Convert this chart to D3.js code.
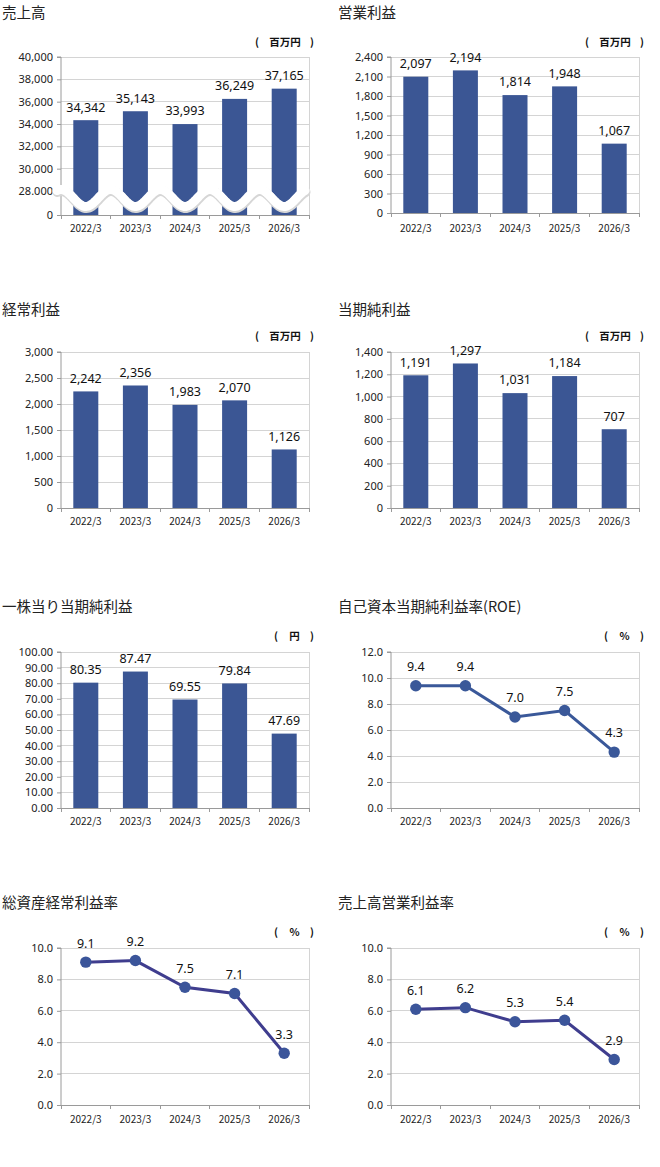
<!DOCTYPE html>
<html><head><meta charset="utf-8">
<script src="https://cdn.jsdelivr.net/npm/d3@7"></script>
<style>body{margin:0;background:#fff} svg{display:block}</style>
</head><body>
<script>
// ---------- data ----------
const categories = ["2022/3","2023/3","2024/3","2025/3","2026/3"];

const salesValues = [34342,35143,33993,36249,37165];
const salesTicks = [0,28000,30000,32000,34000,36000,38000,40000];
const salesTickLabels = ["0","28.000","30,000","32,000","34,000","36,000","38,000","40,000"];

const opProfitValues = [2097,2194,1814,1948,1067];
const opProfitTicks = [0,300,600,900,1200,1500,1800,2100,2400];

const ordProfitValues = [2242,2356,1983,2070,1126];
const ordProfitTicks = [0,500,1000,1500,2000,2500,3000];

const netProfitValues = [1191,1297,1031,1184,707];
const netProfitTicks = [0,200,400,600,800,1000,1200,1400];

const epsValues = [80.35,87.47,69.55,79.84,47.69];
const epsTicks = [0,10,20,30,40,50,60,70,80,90,100];

const roeValues = [9.4,9.4,7.0,7.5,4.3];
const roeTicks = [0,2,4,6,8,10,12];

const roaValues = [9.1,9.2,7.5,7.1,3.3];
const opMarginValues = [6.1,6.2,5.3,5.4,2.9];
const rateTicks = [0,2,4,6,8,10];

const titles = ["売上高","営業利益","経常利益","当期純利益","一株当り当期純利益","自己資本当期純利益率(ROE)","総資産経常利益率","売上高営業利益率"];
const unitMillion = "百万円", unitYen = "円", unitPct = "%";

// ---------- drawing ----------
const W = 660, H = 1167;
const svg = d3.select("body").append("svg").attr("width", W).attr("height", H);

const BAR = "#3B5694";
const GRID = "#D4D4D4";
const AXIS = "#9A9A9A";
const NUMFONT = "'Noto Sans', 'DejaVu Sans', sans-serif";
const JPFONT = "'Noto Sans CJK JP', sans-serif";

function panel(opt) {
  const g = svg.append("g").attr("transform", `translate(${opt.ox},0)`);
  const L = 61, R = 309;
  // title
  g.append("text").attr("x", opt.titleX).attr("y", opt.titleY).attr("dy", "0.35em")
    .attr("font-family", JPFONT).attr("font-size", 14.5).attr("fill", "#222").text(opt.title);
  // unit: ( text )
  const uw = opt.unit.length > 1 ? 58 : 39;
  const ug = g.append("g").attr("font-family", JPFONT).attr("font-size", 10.5).attr("font-weight", 700).attr("fill", "#111");
  ug.append("text").attr("x", 313 - uw).attr("y", opt.unitY).attr("dy", "0.35em").text("(");
  ug.append("text").attr("x", 313 - uw / 2 + 1).attr("y", opt.unitY).attr("dy", "0.35em").attr("text-anchor", "middle").text(opt.unit);
  ug.append("text").attr("x", 314).attr("y", opt.unitY).attr("dy", "0.35em").attr("text-anchor", "end").text(")");

  const y = opt.yScale || d3.scaleLinear().domain([0, d3.max(opt.ticks)]).range([opt.bottom, opt.top]);
  const xb = d3.scaleBand().domain(categories).range([L, R]).paddingInner(0.496).paddingOuter(0.248);
  const xp = d3.scalePoint().domain(categories).range([L, R]).padding(0.5);

  // gridlines
  g.append("g").selectAll("line").data(opt.ticks.filter(t => t !== 0)).join("line")
    .attr("x1", L).attr("x2", R).attr("y1", d => y(d)).attr("y2", d => y(d))
    .attr("stroke", GRID).attr("stroke-width", 1).attr("shape-rendering", "crispEdges");
  // right border
  g.append("line").attr("x1", R).attr("x2", R).attr("y1", opt.top).attr("y2", opt.bottom)
    .attr("stroke", GRID).attr("shape-rendering", "crispEdges");

  // y axis
  const yAxis = d3.axisLeft(y).tickValues(opt.ticks).tickSize(4).tickPadding(4)
    .tickFormat((d, i) => opt.tickLabels ? opt.tickLabels[i] : opt.fmt(d));
  const ya = g.append("g").attr("transform", `translate(${L},0)`).call(yAxis);
  ya.select(".domain").attr("stroke", AXIS).attr("d", `M-4,${opt.top}H0V${opt.bottom}`);
  ya.selectAll(".tick line").attr("stroke", AXIS);
  ya.selectAll("text").attr("font-family", NUMFONT).attr("font-size", 11).attr("fill", "#222");

  // bars
  if (opt.type === "bar") {
    g.append("g").selectAll("rect").data(opt.values).join("rect")
      .attr("x", (d, i) => xb(categories[i])).attr("width", xb.bandwidth())
      .attr("y", d => y(d)).attr("height", d => opt.bottom - y(d)).attr("fill", BAR);
  }

  if (opt.wave) {
    const pts = d3.range(57, 306, 1).map(xx => [xx, 198 + 8.5 * Math.cos(2 * Math.PI * (xx - xb.step() * 0.5 - L) / xb.step())]);
    const line = d3.line();
    g.append("path").attr("d", line(pts)).attr("transform", "translate(0.5,1.5)").attr("fill", "none")
      .attr("stroke", "#D6D6D6").attr("stroke-width", 10).attr("stroke-linecap", "round");
    g.append("path").attr("d", line(pts)).attr("fill", "none").attr("stroke", "#FFFFFF")
      .attr("stroke-width", 9).attr("stroke-linecap", "round");
  }

  // x axis
  const xa = g.append("g").attr("transform", `translate(0,${opt.bottom})`);
  xa.append("line").attr("x1", L).attr("x2", R).attr("stroke", AXIS).attr("shape-rendering", "crispEdges");
  const bounds = d3.range(categories.length + 1).map(i => L + i * xb.step());
  xa.selectAll("line.t").data(bounds).join("line").attr("class", "t")
    .attr("x1", d => d).attr("x2", d => d).attr("y1", 0).attr("y2", 4).attr("stroke", AXIS)
    .attr("shape-rendering", "crispEdges");
  xa.selectAll("text").data(categories).join("text")
    .attr("x", d => xp(d)).attr("y", opt.labelOff).attr("dy", "0.35em").attr("text-anchor", "middle")
    .attr("font-family", JPFONT).attr("font-size", 10).attr("fill", "#222").text(d => d);

  if (opt.type === "line") {
    const ln = d3.line().x((d, i) => xp(categories[i])).y(d => y(d));
    g.append("path").attr("d", ln(opt.values)).attr("fill", "none").attr("stroke", opt.lineColor).attr("stroke-width", 3);
    g.append("g").selectAll("circle").data(opt.values).join("circle")
      .attr("cx", (d, i) => xp(categories[i])).attr("cy", d => y(d)).attr("r", 5.7).attr("fill", opt.markerColor);
  }

  // value labels
  g.append("g").selectAll("text").data(opt.values).join("text")
    .attr("x", (d, i) => xp(categories[i]))
    .attr("y", d => y(d) - (opt.type === "bar" ? 13 : 19)).attr("dy", "0.35em").attr("text-anchor", "middle")
    .attr("font-family", NUMFONT).attr("font-size", 12.5).attr("fill", "#111")
    .text(d => opt.fmt(d));
}

const fmtInt = d3.format(",");
const fmt2 = d3.format(".2f");
const fmt1 = d3.format(".1f");

panel({ox: 0, titleX: 2, titleY: 13, unitY: 42, top: 57, bottom: 215, labelOff: 13,
  title: titles[0], unit: unitMillion, type: "bar", values: salesValues, ticks: salesTicks,
  tickLabels: salesTickLabels, fmt: fmtInt, wave: true,
  yScale: d3.scaleLinear().domain([0, 28000, 40000]).range([215, 191, 57])});
panel({ox: 330, titleX: 8, titleY: 13, unitY: 42, top: 57, bottom: 213, labelOff: 15,
  title: titles[1], unit: unitMillion, type: "bar", values: opProfitValues, ticks: opProfitTicks, fmt: fmtInt});
panel({ox: 0, titleX: 2, titleY: 310, unitY: 336, top: 352, bottom: 508, labelOff: 13,
  title: titles[2], unit: unitMillion, type: "bar", values: ordProfitValues, ticks: ordProfitTicks, fmt: fmtInt});
panel({ox: 330, titleX: 8, titleY: 310, unitY: 336, top: 352, bottom: 508, labelOff: 13,
  title: titles[3], unit: unitMillion, type: "bar", values: netProfitValues, ticks: netProfitTicks, fmt: fmtInt});
panel({ox: 0, titleX: 2, titleY: 607, unitY: 636, top: 652, bottom: 808, labelOff: 13,
  title: titles[4], unit: unitYen, type: "bar", values: epsValues, ticks: epsTicks, fmt: fmt2});
panel({ox: 330, titleX: 8, titleY: 607, unitY: 636, top: 652, bottom: 808, labelOff: 13,
  title: titles[5], unit: unitPct, type: "line", values: roeValues, ticks: roeTicks, fmt: fmt1,
  lineColor: "#3A5899", markerColor: "#3A5899"});
panel({ox: 0, titleX: 2, titleY: 903, unitY: 932, top: 948, bottom: 1105, labelOff: 14,
  title: titles[6], unit: unitPct, type: "line", values: roaValues, ticks: rateTicks, fmt: fmt1,
  lineColor: "#3F3D8E", markerColor: "#3B559A"});
panel({ox: 330, titleX: 8, titleY: 903, unitY: 932, top: 948, bottom: 1105, labelOff: 14,
  title: titles[7], unit: unitPct, type: "line", values: opMarginValues, ticks: rateTicks, fmt: fmt1,
  lineColor: "#3F3D8E", markerColor: "#3B559A"});
</script>
</body></html>
